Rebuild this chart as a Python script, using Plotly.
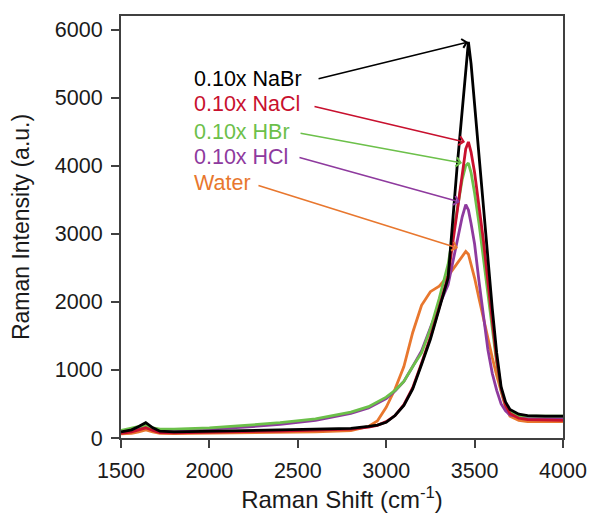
import plotly.graph_objects as go

# Raman shift (cm-1)
shift = [1500, 1560, 1600, 1640, 1680, 1720, 1800, 2000, 2200, 2400, 2600, 2800, 2900, 2950,
         3000, 3050, 3100, 3150, 3200, 3250, 3300, 3350, 3400, 3430, 3450, 3465, 3480, 3500,
         3525, 3550, 3575, 3600, 3625, 3650, 3675, 3700, 3750, 3800, 3900, 4000]

water = [60, 70, 90, 120, 90, 70, 65, 70, 75, 80, 90, 110, 170, 250,
         450, 720, 1050, 1550, 1950, 2150, 2230, 2380, 2560, 2680, 2740, 2700, 2550, 2350,
         2050, 1750, 1450, 1180, 920, 680, 450, 320, 260, 240, 240, 240]

hcl = [100, 120, 150, 175, 140, 120, 115, 130, 160, 200, 260, 360, 440, 510,
       580, 690, 830, 1050, 1280, 1620, 1950, 2250, 2900, 3250, 3430, 3350, 3150, 2850,
       2300, 1780, 1300, 950, 700, 500, 400, 340, 310, 300, 300, 300]

hbr = [110, 140, 160, 190, 150, 130, 130, 150, 185, 225, 280, 380, 460, 530,
       600, 700, 830, 1050, 1250, 1600, 2050, 2550, 3350, 3800, 4000, 4040, 3900, 3600,
       3150, 2650, 2100, 1600, 1100, 700, 480, 380, 330, 320, 320, 320]

nacl = [70, 90, 120, 150, 110, 80, 75, 90, 95, 100, 110, 130, 160, 185,
        240, 330, 490, 740, 1100, 1480, 1920, 2380, 3300, 3900, 4250, 4350, 4200, 3900,
        3400, 2900, 2300, 1700, 1150, 720, 480, 360, 290, 270, 260, 260]

nabr = [90, 120, 170, 225, 150, 100, 90, 100, 105, 115, 125, 140, 170, 190,
        230, 330, 480, 720, 1080, 1450, 1900, 2350, 3950, 4800, 5450, 5820, 5500, 4900,
        4150, 3300, 2550, 1900, 1250, 750, 530, 420, 350, 330, 320, 320]

labels = ["0.10x NaBr", "0.10x NaCl", "0.10x HBr", "0.10x HCl", "Water"]
colors = ["#000000", "#c8102e", "#6cc04a", "#8e3a9e", "#e8772e"]
series = [nabr, nacl, hbr, hcl, water]

# label placement (data coords) and arrow tail/head
label_x = 1902
label_y = [5274, 4907, 4496, 4128, 3746]
tail_x = [2609, 2586, 2507, 2501, 2269]
tail_y = [5274, 4877, 4481, 4128, 3717]
head_x = [3463, 3446, 3429, 3417, 3406]
head_y = [5818, 4348, 4040, 3467, 2791]

FONT = "Liberation Sans, Arial, sans-serif"
TXT = "#1a1a1a"

fig = go.Figure()
# draw order: water, HCl, HBr, NaCl, NaBr (black on top)
for i in [4, 3, 2, 1, 0]:
    fig.add_trace(go.Scatter(x=shift, y=series[i], mode="lines", name=labels[i],
                             line=dict(color=colors[i], width=2.8)))

anns = []
for i in range(5):
    anns.append(dict(x=label_x, y=label_y[i], xref="x", yref="y", text=labels[i],
                     showarrow=False, xanchor="left", yanchor="middle",
                     font=dict(family=FONT, size=21.5, color=colors[i])))
    anns.append(dict(x=head_x[i], y=head_y[i], xref="x", yref="y",
                     ax=tail_x[i], ay=tail_y[i], axref="x", ayref="y",
                     text="", showarrow=True, arrowhead=4, arrowsize=1.1,
                     arrowwidth=1.6, arrowcolor=colors[i]))

fig.update_layout(
    width=590, height=516,
    margin=dict(l=121, r=27, t=16, b=78, autoexpand=False),
    plot_bgcolor="white", paper_bgcolor="white",
    showlegend=False,
    font=dict(family=FONT, size=21.5, color=TXT),
    annotations=anns,
)
fig.update_xaxes(range=[1500, 4000], tickvals=[1500, 2000, 2500, 3000, 3500, 4000],
                 showline=True, linecolor="#404040", linewidth=2, mirror=True,
                 ticks="outside", ticklen=8, tickwidth=1.5, tickcolor="#404040",
                 showgrid=False, zeroline=False, automargin=False, ticklabelstandoff=4,
                 tickfont=dict(family=FONT, size=21.5, color=TXT),
                 title=dict(text="Raman Shift (cm<sup>-1</sup>)", standoff=8,
                            font=dict(family=FONT, size=24, color=TXT)))
fig.update_yaxes(range=[0, 6200], tickvals=[0, 1000, 2000, 3000, 4000, 5000, 6000],
                 showline=True, linecolor="#404040", linewidth=2, mirror=True,
                 ticks="outside", ticklen=8, tickwidth=1.5, tickcolor="#404040",
                 showgrid=False, zeroline=False, ticklabelstandoff=4, automargin=False,
                 tickfont=dict(family=FONT, size=21.5, color=TXT),
                 title=dict(text="Raman Intensity (a.u.)", standoff=19,
                            font=dict(family=FONT, size=23, color=TXT)))

fig.write_html("out.html")
